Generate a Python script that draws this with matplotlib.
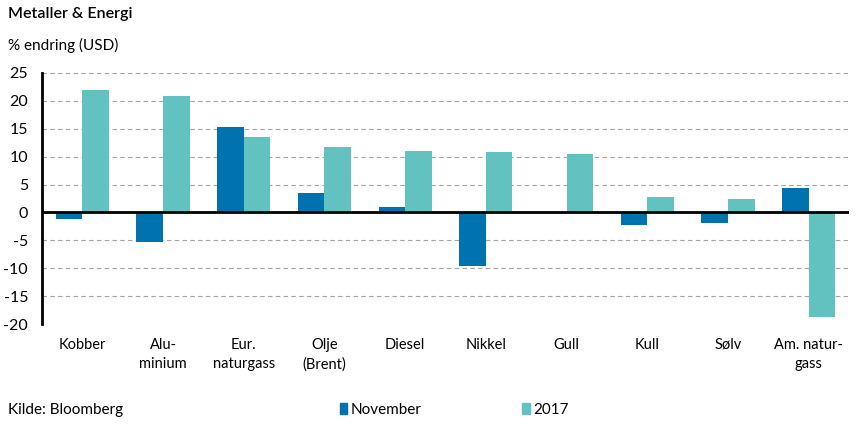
import matplotlib.pyplot as plt
import numpy as np
from matplotlib.patches import Patch

categories = ['Kobber', 'Alu-\nminium', 'Eur.\nnaturgass', 'Olje\n(Brent)', 'Diesel',
              'Nikkel', 'Gull', 'Kull', 'Sølv', 'Am. natur-\ngass']
november = [-1.2, -5.3, 15.3, 3.4, 1.0, -9.6, 0.0, -2.2, -1.9, 4.4]
year2017 = [22.0, 20.9, 13.5, 11.8, 11.0, 10.9, 10.5, 2.8, 2.4, -18.7]
yticks = [25, 20, 15, 10, 5, 0, -5, -10, -15, -20]

col_nov = '#0072AE'
col_2017 = '#62C2BF'

plt.rcParams['font.family'] = ['Lato', 'DejaVu Sans']

fig = plt.figure(figsize=(8.56, 4.25), dpi=100)
ax = fig.add_axes([42 / 856, 1 - 324 / 425, (849 - 42) / 856, (324 - 73) / 425])

x = np.arange(len(categories))
w = 0.33
ax.bar(x - w / 2, november, width=w, color=col_nov, zorder=3)
ax.bar(x + w / 2, year2017, width=w, color=col_2017, zorder=3)

ax.set_xlim(-0.5, len(categories) - 0.5)
ax.set_ylim(-20, 25)
ax.set_yticks(yticks)
ax.set_yticklabels([str(v) for v in yticks], fontsize=11.5)
ax.set_xticks(x)
ax.set_xticklabels(categories, fontsize=10.5, linespacing=1.5, va='top')
ax.tick_params(axis='x', length=0, pad=10)
ax.tick_params(axis='y', length=0, pad=10)

for v in yticks:
    if v != 0:
        ax.axhline(v, color='#a9a39e', lw=0.8, ls=(0, (4, 3)), zorder=1)
ax.axhline(0, color='black', lw=2, zorder=4)

for s in ['top', 'right', 'bottom']:
    ax.spines[s].set_visible(False)
ax.spines['left'].set_linewidth(2)
ax.spines['left'].set_zorder(5)

fig.text(8 / 856, 1 - 14 / 425, 'Metaller & Energi', fontsize=11.5, fontweight='semibold', va='center')
fig.text(8 / 856, 1 - 45 / 425, '% endring (USD)', fontsize=11, va='center')
fig.text(8 / 856, 1 - 410 / 425, 'Kilde: Bloomberg', fontsize=11, va='center')

fig.legend(handles=[Patch(color=col_nov, label='November'), Patch(color=col_2017, label='2017')],
           loc='center left', bbox_to_anchor=(326 / 856, 1 - 410 / 425), ncol=2, frameon=False,
           fontsize=11, handlelength=0.5, handleheight=0.7, handletextpad=0.2, columnspacing=6.6)

fig.savefig('out.png', dpi=100)
